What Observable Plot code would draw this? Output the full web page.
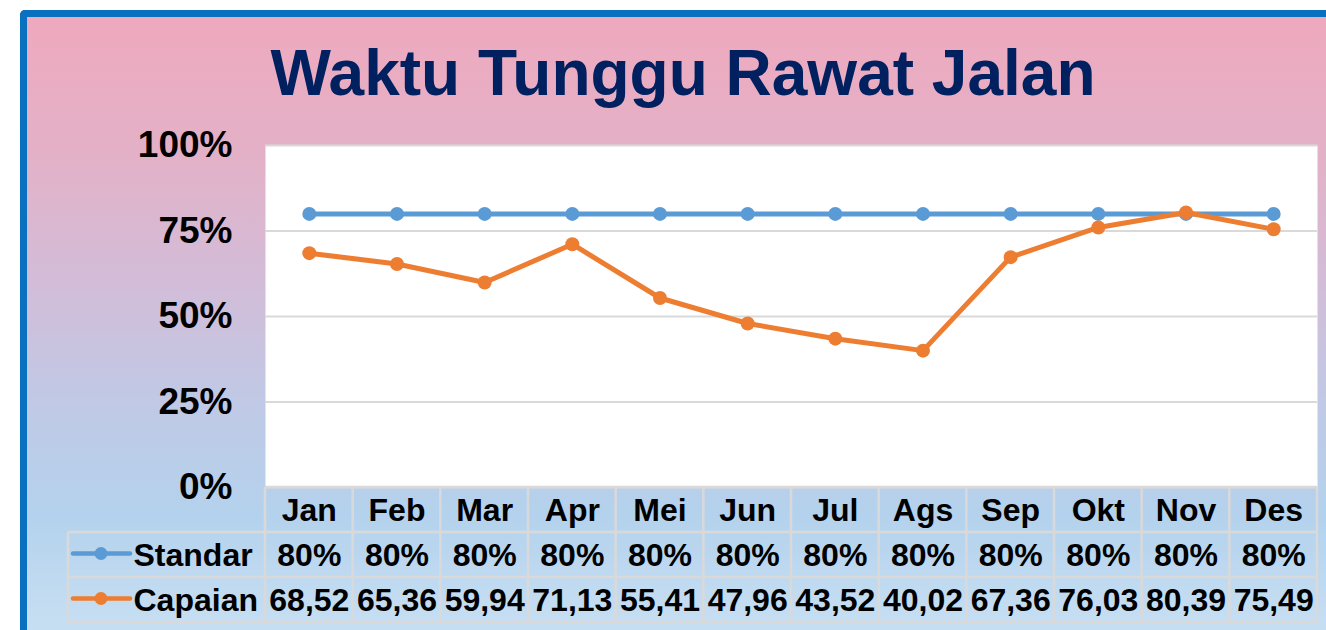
<!DOCTYPE html>
<html><head><meta charset="utf-8">
<script src="https://cdn.jsdelivr.net/npm/d3@7"></script>
<script src="https://cdn.jsdelivr.net/npm/@observablehq/plot@0.6"></script>
<style>
html,body{margin:0;padding:0;background:#fff;width:1326px;height:630px;overflow:hidden;font-family:"Liberation Sans",Arial,Helvetica,sans-serif}
#panel{position:absolute;left:20px;top:10px;width:1320px;height:630px;box-sizing:border-box;border-top:7px solid #0a71c0;border-left:7px solid #0a71c0;border-top-left-radius:5px;
background:linear-gradient(to bottom,#efa9be 0%,#e3b1c7 22%,#d3bcd8 42%,#c0c9e5 62%,#b4d2ed 80%,#c9e0f3 100%)}
#title{position:absolute;left:0;top:41px;width:1366px;text-align:center;font-size:64px;line-height:64px;font-weight:bold;color:#002060;white-space:nowrap}
#chart{position:absolute;left:0;top:120px}
#chart svg text{font-weight:bold}
</style>
</head><body>
<div id="panel"></div>
<div id="title">Waktu Tunggu Rawat Jalan</div>
<div id="chart"></div>
<script>
const months = ["Jan","Feb","Mar","Apr","Mei","Jun","Jul","Ags","Sep","Okt","Nov","Des"];
const standar = [80,80,80,80,80,80,80,80,80,80,80,80];
const capaian = [68.52,65.36,59.94,71.13,55.41,47.96,43.52,40.02,67.36,76.03,80.39,75.49];
const yTicks = [0,25,50,75,100];
const seriesNames = ["Standar","Capaian"];
const seriesColors = ["#5b9bd5","#ed7d31"];

const ROW = 45;
function tableGrid(index, scales, values, dims) {
  const x = scales.x, y = scales.y;
  const step = x(months[1]) - x(months[0]);
  const left = x(months[0]) - step / 2;
  const right = x(months[months.length - 1]) + step / 2;
  const top = y(0);
  const legendLeft = 68;
  const g = d3.create("svg:g").attr("stroke", "#d9d9d9").attr("stroke-width", 2.5).attr("fill", "none");
  g.append("line").attr("x1", left).attr("x2", right).attr("y1", top).attr("y2", top);
  for (let r = 1; r <= 3; r++) {
    g.append("line").attr("x1", legendLeft).attr("x2", right).attr("y1", top + r * ROW).attr("y2", top + r * ROW);
  }
  for (let k = 0; k <= months.length; k++) {
    const xx = left + k * step;
    g.append("line").attr("x1", xx).attr("x2", xx).attr("y1", top).attr("y2", top + 3 * ROW);
  }
  g.append("line").attr("x1", legendLeft).attr("x2", legendLeft).attr("y1", top + ROW).attr("y2", top + 3 * ROW);
  seriesColors.forEach((c, i) => {
    const cy = top + ROW * (i + 1) + ROW / 2 - 1;
    g.append("line").attr("x1", 73).attr("x2", 130).attr("y1", cy).attr("y2", cy)
      .attr("stroke", c).attr("stroke-width", 4.5).attr("stroke-linecap", "round");
    g.append("circle").attr("cx", 101).attr("cy", cy).attr("r", 6.5).attr("fill", c).attr("stroke", "none");
  });
  return g.node();
}

const txt = {fontSize: 32, fontWeight: "bold", fill: "black", lineAnchor: "middle"};
const fmt = d => d.toFixed(2).replace(".", ",");

const plot = Plot.plot({
  width: 1326,
  height: 510,
  marginTop: 25,
  marginLeft: 265,
  marginRight: 9,
  marginBottom: 143,
  style: {fontFamily: '"Liberation Sans", Arial, sans-serif', color: "black", background: "transparent", overflow: "visible"},
  x: {type: "point", domain: months, padding: 0.5, round: false, axis: null},
  y: {domain: [0, 100], axis: null},
  marks: [
    Plot.frame({fill: "white", stroke: null}),
    Plot.ruleY(yTicks, {stroke: "#d9d9d9", strokeWidth: 2}),
    tableGrid,
    Plot.axisY({ticks: yTicks, tickFormat: d => d + "%", tickSize: 0, tickPadding: 33, fontSize: 37, fontWeight: "bold", fill: "black"}),
    Plot.line(standar, {x: (d, i) => months[i], y: d => d, stroke: seriesColors[0], strokeWidth: 5}),
    Plot.dot(standar, {x: (d, i) => months[i], y: d => d, r: 7, fill: seriesColors[0]}),
    Plot.line(capaian, {x: (d, i) => months[i], y: d => d, stroke: seriesColors[1], strokeWidth: 5}),
    Plot.dot(capaian, {x: (d, i) => months[i], y: d => d, r: 7, fill: seriesColors[1]}),
    Plot.text(months, {x: d => d, y: 0, dy: 23, text: d => d, ...txt}),
    Plot.text(standar, {x: (d, i) => months[i], y: 0, dy: 68, text: d => d + "%", ...txt}),
    Plot.text(capaian, {x: (d, i) => months[i], y: 0, dy: 113, text: fmt, ...txt}),
    Plot.text([seriesNames[0]], {frameAnchor: "bottom-left", dx: -132, dy: 68, text: d => d, textAnchor: "start", ...txt}),
    Plot.text([seriesNames[1]], {frameAnchor: "bottom-left", dx: -132, dy: 113, text: d => d, textAnchor: "start", ...txt})
  ]
});
document.getElementById("chart").appendChild(plot);
</script>
</body></html>
